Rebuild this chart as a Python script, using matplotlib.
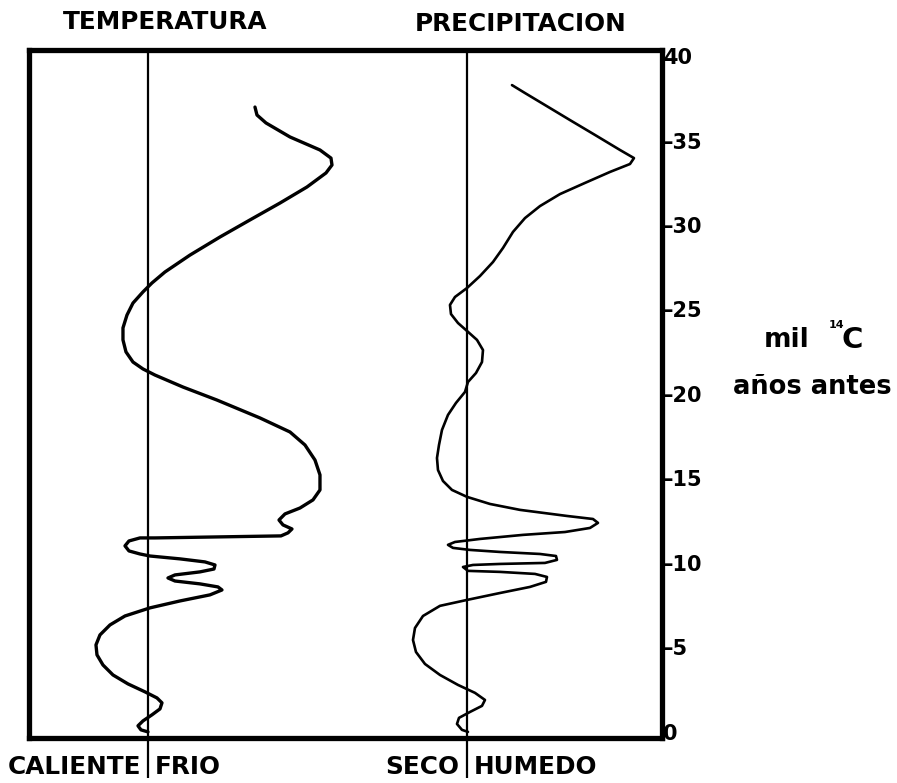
import matplotlib
matplotlib.use("Agg")
import matplotlib.pyplot as plt

# Age axis (thousand 14C years before present)
age_ticks = [0, 5, 10, 15, 20, 25, 30, 35, 40]
age_labels = ["0", "–5", "–10", "–15", "–20", "–25", "–30", "–35", "40"]

# Temperature curve: age and deviation from the reference line (+ = cold)
temp_age = [36.98, 36.51, 36.04, 35.21, 34.44, 33.96, 33.55, 33.08, 32.25, 31.30,
            30.30, 29.29, 28.22, 27.22, 26.57, 26.04, 25.38, 24.67, 23.91, 23.20,
            22.49, 21.89, 21.48, 21.12, 20.41, 19.64, 18.58, 17.75, 16.98, 16.09,
            15.21, 14.32, 13.73, 13.25, 12.90, 12.54, 12.25, 12.01, 11.78, 11.60,
            11.48, 11.48, 11.30, 11.01, 10.71, 10.53, 10.41, 10.24, 10.06, 9.88,
            9.64, 9.47, 9.29, 9.11, 8.93, 8.76, 8.58, 8.40, 8.11, 7.75,
            7.34, 6.86, 6.33, 5.74, 5.15, 4.56, 3.96, 3.37, 2.84, 2.37,
            2.01, 1.72, 1.36, 1.01, 0.65, 0.36, 0.12, 0.0]
temp_dev = [10.7, 10.9, 11.8, 14.2, 17.2, 18.3, 18.4, 17.8, 15.9, 13.2,
            10.2, 7.2, 4.2, 1.7, 0.4, -0.5, -1.5, -2.1, -2.5, -2.5,
            -2.2, -1.5, -0.5, 0.7, 3.5, 6.9, 11.2, 14.2, 15.7, 16.7,
            17.2, 17.2, 16.5, 15.2, 13.7, 13.1, 13.5, 14.4, 14.0, 13.3,
            0.7, -0.8, -1.9, -2.3, -1.9, -0.8, 0.2, 3.2, 5.7, 6.7,
            6.6, 5.2, 2.7, 2.0, 2.7, 5.2, 7.0, 7.4, 6.2, 3.2,
            0.2, -2.3, -3.8, -4.8, -5.2, -5.1, -4.5, -3.5, -2.0, -0.3,
            0.9, 1.4, 1.2, 0.4, -0.5, -1.0, -0.7, 0.0]

# Precipitation curve: age and deviation from the reference line (+ = humid)
prec_age = [38.28, 37.81, 37.10, 36.21, 35.33, 34.44, 33.96, 33.61, 33.14, 32.49,
            31.83, 31.12, 30.41, 29.59, 28.64, 27.81, 26.98, 26.27, 25.74, 25.27,
            24.73, 24.20, 23.73, 23.20, 22.60, 21.89, 21.24, 20.71, 20.12, 19.47,
            18.76, 17.87, 16.98, 16.21, 15.50, 14.85, 14.32, 13.91, 13.49, 13.14,
            12.78, 12.60, 12.37, 12.07, 11.83, 11.66, 11.42, 11.24, 11.07, 10.89,
            10.77, 10.65, 10.53, 10.41, 10.18, 10.00, 9.94, 9.88, 9.76, 9.53,
            9.47, 9.35, 9.17, 8.88, 8.58, 8.22, 7.81, 7.46, 6.86, 6.15,
            5.44, 4.73, 4.02, 3.37, 2.78, 2.31, 1.89, 1.54, 1.18, 0.83,
            0.47, 0.12, 0.0]
prec_dev = [4.5, 5.8, 7.8, 10.3, 12.8, 15.3, 16.7, 16.3, 14.3, 11.8,
            9.3, 7.3, 5.8, 4.6, 3.6, 2.6, 1.3, 0.0, -1.2, -1.7,
            -1.6, -0.9, 0.0, 1.0, 1.6, 1.5, 0.9, 0.1, -0.2, -1.1,
            -1.9, -2.5, -2.8, -3.0, -2.9, -2.4, -1.5, 0.0, 2.3, 5.3,
            10.0, 12.6, 13.1, 12.3, 9.8, 5.6, 1.3, -1.2, -1.9, -1.4,
            0.3, 3.3, 7.3, 8.9, 9.0, 7.8, 3.3, 0.6, -0.4, 0.1,
            3.3, 6.8, 8.0, 7.9, 6.3, 3.3, 0.0, -2.7, -4.4, -5.2,
            -5.4, -5.1, -4.2, -2.7, -0.9, 0.8, 1.8, 1.5, 0.3, -0.8,
            -1.0, -0.5, 0.1]

# where each panel's reference line sits across the box
T_REF = 11.9
P_REF = 43.8

bold = dict(fontweight="bold", family="DejaVu Sans", color="black")

fig = plt.figure(figsize=(8.97, 7.83), dpi=100)
ax = fig.add_axes([0.0323, 0.0575, 0.7057, 0.8787])
ax.set_xlim(0, 63.3)
ax.set_ylim(-0.36, 40.36)

for s in ax.spines.values():
    s.set_linewidth(3.8)

# reference lines run down between the bottom labels
for ref in (T_REF, P_REF):
    ax.plot([ref, ref], [40.36, -2.75], color="black", lw=1.6, clip_on=False,
            solid_capstyle="butt")

ax.plot([T_REF + d for d in temp_dev], temp_age, color="black", lw=2.4,
        solid_joinstyle="round", solid_capstyle="round")
ax.plot([P_REF + d for d in prec_dev], prec_age, color="black", lw=1.9,
        solid_joinstyle="round", solid_capstyle="round")

ax.set_xticks([])
ax.yaxis.tick_right()
ax.set_yticks(age_ticks)
ax.set_yticklabels(age_labels, **bold, fontsize=15)
ax.tick_params(axis="y", length=0, pad=1)

# titles and side labels
fig.text(165 / 897, 1 - 22 / 783, "TEMPERATURA", ha="center", va="center", fontsize=17.8, **bold)
fig.text(521 / 897, 1 - 24 / 783, "PRECIPITACION", ha="center", va="center", fontsize=17.8, **bold)
fig.text(141 / 897, 1 - 767 / 783, "CALIENTE", ha="right", va="center", fontsize=17.8, **bold)
fig.text(155 / 897, 1 - 767 / 783, "FRIO", ha="left", va="center", fontsize=17.8, **bold)
fig.text(459 / 897, 1 - 767 / 783, "SECO", ha="right", va="center", fontsize=17.8, **bold)
fig.text(474 / 897, 1 - 767 / 783, "HUMEDO", ha="left", va="center", fontsize=17.8, **bold)

fig.text(787 / 897, 1 - 340 / 783, "mil", ha="center", va="center", fontsize=19, **bold)
fig.text(836 / 897, 1 - 325 / 783, "14", ha="center", va="center", fontsize=8, **bold)
fig.text(852 / 897, 1 - 340 / 783, "C", ha="center", va="center", fontsize=21, **bold)
fig.text(812 / 897, 1 - 387 / 783, "años antes", ha="center", va="center", fontsize=18.5, **bold)

fig.savefig("out.png", dpi=100, facecolor="white")
